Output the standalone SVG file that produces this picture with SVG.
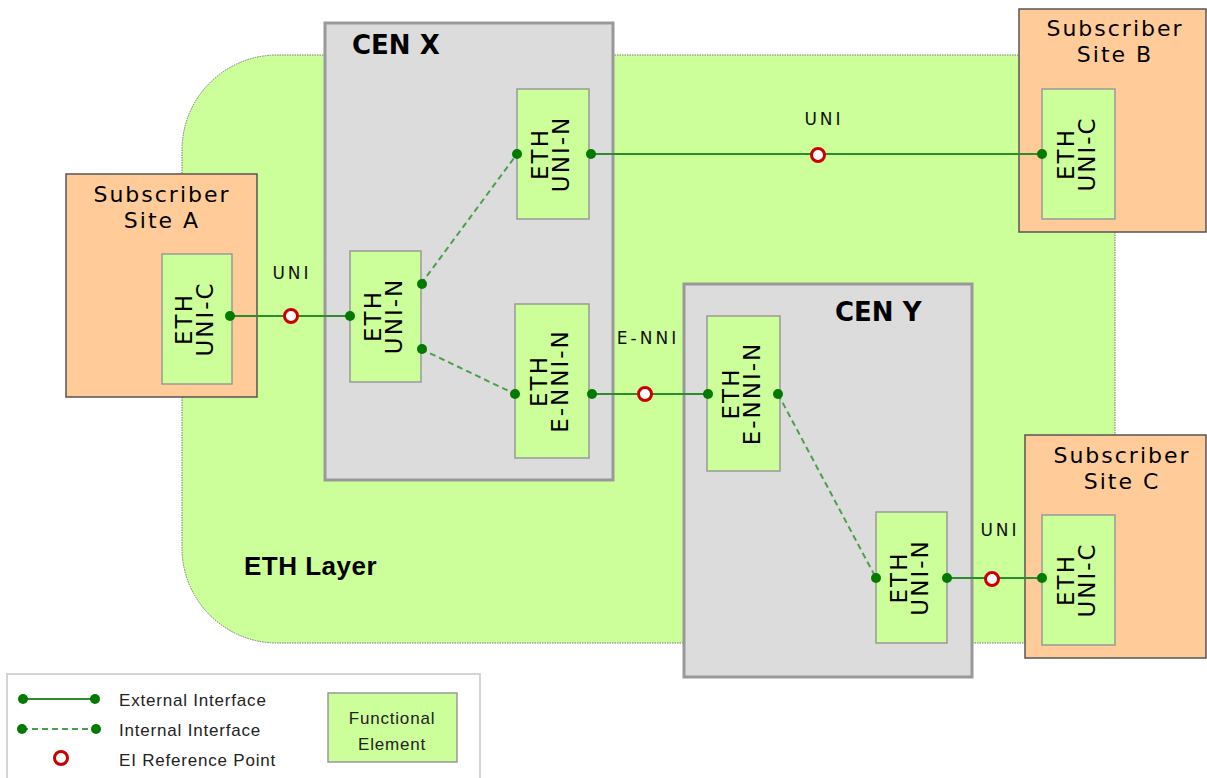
<svg xmlns="http://www.w3.org/2000/svg" width="1207" height="778" viewBox="0 0 1207 778">
<style>
.cen{fill:#dcdcdc;stroke:#999;stroke-width:3}
.site{fill:#ffcc99;stroke:#555;stroke-width:1.5}
.fe{fill:#ccff99;stroke:#999;stroke-width:1.5}
.fet{font-family:"DejaVu Sans",Verdana,sans-serif;font-size:23px;letter-spacing:2px;fill:#000;text-anchor:middle}
.sitet{font-family:"DejaVu Sans",Verdana,sans-serif;font-size:22px;letter-spacing:2px;fill:#000;text-anchor:middle}
.cent{font-family:"DejaVu Sans",Verdana,sans-serif;font-size:26px;font-weight:bold;fill:#000}
.ifl{font-family:"DejaVu Sans",Verdana,sans-serif;font-size:17px;letter-spacing:3px;fill:#111;text-anchor:middle}
.lg{font-family:"Liberation Sans",Arial,sans-serif;font-size:17px;letter-spacing:0.8px;fill:#222}
.ext{stroke:#2e8b2e;stroke-width:2;fill:none}
.int{stroke:#4c9f4c;stroke-width:2;stroke-dasharray:6 4;fill:none}
.dot{fill:#007a00}
.ref{fill:#fff;stroke:#cc0000;stroke-width:3}
</style>
<rect width="1207" height="778" fill="#fff"/>
<g id="eth-layer">
<path d="M277,55 H1115 V643 H277 A95,95 0 0 1 182,548 V150 A95,95 0 0 1 277,55 Z" fill="#ccff99" stroke="#777" stroke-width="1" stroke-dasharray="1.5 1"/>
<text x="244" y="575" font-family="Liberation Sans,Arial,sans-serif" font-size="26" font-weight="bold" letter-spacing="0.5">ETH Layer</text>
</g>
<g id="cen-x">
<rect class="cen" x="325" y="23" width="288" height="457"/>
<text class="cent" x="352" y="54">CEN X</text>
</g>
<g id="cen-y">
<rect class="cen" x="684" y="284" width="288" height="393"/>
<text class="cent" x="835" y="321">CEN Y</text>
</g>
<g id="site-a">
<rect class="site" x="66" y="174" width="191" height="223"/>
<text class="sitet" x="162" y="202">Subscriber</text>
<text class="sitet" x="162" y="228">Site A</text>
</g>
<g id="site-b">
<rect class="site" x="1019" y="9" width="187" height="223"/>
<text class="sitet" x="1115" y="36">Subscriber</text>
<text class="sitet" x="1115" y="62">Site B</text>
</g>
<g id="site-c">
<rect class="site" x="1025" y="435" width="181" height="223"/>
<text class="sitet" x="1122" y="463">Subscriber</text>
<text class="sitet" x="1122" y="489">Site C</text>
</g>
<g id="fe-a-uni-c">
<rect class="fe" x="162" y="254" width="70" height="130"/>
<g transform="translate(197,319) rotate(-90)"><text class="fet" x="0" y="-5">ETH</text><text class="fet" x="0" y="16">UNI-C</text></g>
</g>
<g id="fe-x-uni-n-a">
<rect class="fe" x="350" y="251" width="71" height="131"/>
<g transform="translate(385.5,316) rotate(-90)"><text class="fet" x="0" y="-5">ETH</text><text class="fet" x="0" y="16">UNI-N</text></g>
</g>
<g id="fe-x-uni-n-b">
<rect class="fe" x="517" y="89" width="72" height="130"/>
<g transform="translate(553,154) rotate(-90)"><text class="fet" x="0" y="-5">ETH</text><text class="fet" x="0" y="16">UNI-N</text></g>
</g>
<g id="fe-x-enni-n">
<rect class="fe" x="515" y="304" width="74" height="154"/>
<g transform="translate(552,381) rotate(-90)"><text class="fet" x="0" y="-5">ETH</text><text class="fet" x="0" y="16">E-NNI-N</text></g>
</g>
<g id="fe-y-enni-n">
<rect class="fe" x="707" y="316" width="73" height="155"/>
<g transform="translate(743.5,393.5) rotate(-90)"><text class="fet" x="0" y="-5">ETH</text><text class="fet" x="0" y="16">E-NNI-N</text></g>
</g>
<g id="fe-y-uni-n">
<rect class="fe" x="876" y="512" width="71" height="131"/>
<g transform="translate(911.5,577.5) rotate(-90)"><text class="fet" x="0" y="-5">ETH</text><text class="fet" x="0" y="16">UNI-N</text></g>
</g>
<g id="fe-b-uni-c">
<rect class="fe" x="1042" y="89" width="73" height="130"/>
<g transform="translate(1078.5,154) rotate(-90)"><text class="fet" x="0" y="-5">ETH</text><text class="fet" x="0" y="16">UNI-C</text></g>
</g>
<g id="fe-c-uni-c">
<rect class="fe" x="1042" y="515" width="73" height="130"/>
<g transform="translate(1078.5,580) rotate(-90)"><text class="fet" x="0" y="-5">ETH</text><text class="fet" x="0" y="16">UNI-C</text></g>
</g>
<g id="connectors">
<line class="ext" x1="232" y1="316" x2="350" y2="316"/>
<line class="ext" x1="592" y1="154" x2="1042" y2="154"/>
<line class="ext" x1="592" y1="394" x2="708" y2="394"/>
<line class="ext" x1="947" y1="578" x2="1042" y2="578"/>
<line class="int" x1="421" y1="284" x2="517" y2="154"/>
<line class="int" x1="421" y1="349" x2="515" y2="394"/>
<line class="int" x1="778" y1="394" x2="876" y2="578"/>
<circle class="dot" cx="230" cy="316" r="5"/>
<circle class="dot" cx="350" cy="316" r="5"/>
<circle class="dot" cx="422" cy="284" r="5"/>
<circle class="dot" cx="422" cy="349" r="5"/>
<circle class="dot" cx="517" cy="154" r="5"/>
<circle class="dot" cx="591" cy="154" r="5"/>
<circle class="dot" cx="1042" cy="154" r="5"/>
<circle class="dot" cx="515" cy="394" r="5"/>
<circle class="dot" cx="592" cy="394" r="5"/>
<circle class="dot" cx="708" cy="394" r="5"/>
<circle class="dot" cx="778" cy="394" r="5"/>
<circle class="dot" cx="876" cy="578" r="5"/>
<circle class="dot" cx="947" cy="578" r="5"/>
<circle class="dot" cx="1042" cy="578" r="5"/>
<circle class="ref" cx="291" cy="316" r="6.5"/>
<circle class="ref" cx="818" cy="155" r="6.5"/>
<circle class="ref" cx="645" cy="394" r="6.5"/>
<circle class="ref" cx="992" cy="579" r="6.5"/>
<text class="ifl" x="292" y="279">UNI</text>
<text class="ifl" x="824" y="125">UNI</text>
<text class="ifl" x="648" y="344">E-NNI</text>
<text class="ifl" x="1000" y="536">UNI</text>
</g>
<g id="legend">
<rect x="7" y="674" width="473" height="110" fill="#fff" stroke="#d4d4d4" stroke-width="2"/>
<line class="ext" x1="23" y1="699" x2="95" y2="699"/>
<circle class="dot" cx="23" cy="699" r="5"/>
<circle class="dot" cx="95" cy="699" r="5"/>
<line class="int" x1="22" y1="729" x2="96" y2="729"/>
<circle class="dot" cx="22" cy="729" r="5"/>
<circle class="dot" cx="96" cy="729" r="5"/>
<circle class="ref" cx="61" cy="758" r="6.5"/>
<text class="lg" x="119" y="706">External Interface</text>
<text class="lg" x="119" y="736">Internal Interface</text>
<text class="lg" x="119" y="766">EI Reference Point</text>
</g>
<g id="legend-fe">
<rect class="fe" x="328" y="693" width="129" height="69" stroke="#888"/>
<text class="lg" x="392" y="724" text-anchor="middle" font-size="18" letter-spacing="0.3">Functional</text>
<text class="lg" x="392" y="750" text-anchor="middle" font-size="18" letter-spacing="0.3">Element</text>
</g>
</svg>
